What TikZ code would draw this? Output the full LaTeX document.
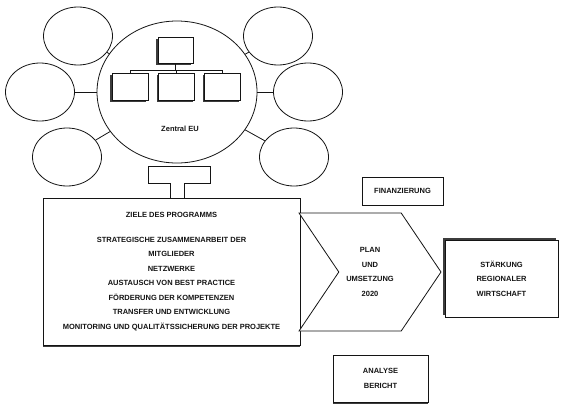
\documentclass[tikz,border=0pt]{standalone}
\usepackage{fontspec}
\setmainfont{Liberation Sans}
\usepackage{tikz}
\usetikzlibrary{arrows.meta,positioning,shapes.geometric,shapes.symbols,shadows}
\definecolor{inkblack}{RGB}{20,20,20}
\definecolor{shadowgrey}{RGB}{60,60,60}
\tikzset{
  base/.style={font=\fontsize{7.5}{14.5}\selectfont\bfseries, align=center, inner sep=2pt, text=inkblack},
  ring/.style={ellipse, draw=inkblack, line width=0.8pt, fill=white, minimum width=69pt, minimum height=58pt, inner sep=0pt},
  hub/.style={ring, minimum width=160pt, minimum height=142pt},
  orgbox/.style={rectangle, draw=inkblack, fill=white, line width=0.8pt, minimum width=36pt, minimum height=27pt, inner sep=0pt,
    drop shadow={shadow xshift=-1.6pt, shadow yshift=-1.6pt, fill=shadowgrey, opacity=1}},
  box/.style={base, rectangle, draw=inkblack, fill=white, line width=0.8pt},
  chev/.style={base, signal, signal from=west, signal to=east, signal pointer angle=112, draw=inkblack, fill=white, line width=0.8pt,
    minimum width=142pt, minimum height=118pt},
  link/.style={draw=inkblack, line width=0.8pt},
}
\begin{document}
\begin{tikzpicture}[x=1pt,y=-1pt]
  \useasboundingbox (0,0) rectangle (561,407);
  % satellites round the hub
  \coordinate (hubc) at (177,92);
  \node[ring] (satnw) at (78,36)  {};
  \node[ring] (satw)  at (40,92)  {};
  \node[ring] (satsw) at (67,157) {};
  \node[ring] (satne) at (278,36) {};
  \node[ring] (sate)  at (308,92) {};
  \node[ring] (satse) at (294,157) {};
  \foreach \s in {satnw,satw,satsw,satne,sate,satse}{\draw[link] (hubc) -- (\s);}
  \node[hub] (hub) at (hubc) {};
  % org chart
  \node[orgbox,minimum width=35pt,minimum height=26pt] (orgtop) at (175.5,50) {};
  \node[orgbox] (orgl) at (130,86.5) {};
  \node[orgbox] (orgm) at (176.5,86.5) {};
  \node[orgbox] (orgr) at (222.5,86.5) {};
  \coordinate (orgj) at (175.5,70);
  \draw[link] (orgtop.south) -- (orgj);
  \draw[link] (orgl.north) -- (orgl.north |- orgj) -- (orgr.north |- orgj) -- (orgr.north);
  \draw[link] (orgm.north) -- (orgm.north |- orgj);
  \node[base] (hublbl) at (180,129) {Zentral EU};
  % stand below the hub
  \draw[link, fill=white] (148,166) -- (210,166) -- (210,183) -- (184,183) -- (184,198) -- (170,198) -- (170,183) -- (148,183) -- cycle;
  % main boxes
  \node[box, minimum width=257pt, minimum height=147pt,
    drop shadow={shadow xshift=0pt, shadow yshift=-2.2pt, fill=shadowgrey, opacity=1}] (prog) at (171.5,271.5)
    {ZIELE DES PROGRAMMS\\[10pt]
     STRATEGISCHE ZUSAMMENARBEIT DER\\ MITGLIEDER\\ NETZWERKE\\ AUSTAUSCH VON BEST PRACTICE\\
     FÖRDERUNG DER KOMPETENZEN\\ TRANSFER UND ENTWICKLUNG\\ MONITORING UND QUALITÄTSSICHERUNG DER PROJEKTE};
  \node[chev] (plan) at (370,272) {PLAN\\UND\\UMSETZUNG\\2020};
  \node[box, minimum width=81pt, minimum height=28pt] (fin) at (402.5,191) {FINANZIERUNG};
  \node[box, minimum width=113pt, minimum height=77pt,
    drop shadow={shadow xshift=-2.2pt, shadow yshift=2.2pt, fill=shadowgrey, opacity=1}] (goal) at (501.5,278.5)
    {STÄRKUNG\\REGIONALER\\WIRTSCHAFT};
  \node[box, minimum width=95pt, minimum height=47pt,
    drop shadow={shadow xshift=0pt, shadow yshift=-2pt, fill=shadowgrey, opacity=1}] (audit) at (380.5,378.5)
    {ANALYSE\\BERICHT};
\end{tikzpicture}
\end{document}
